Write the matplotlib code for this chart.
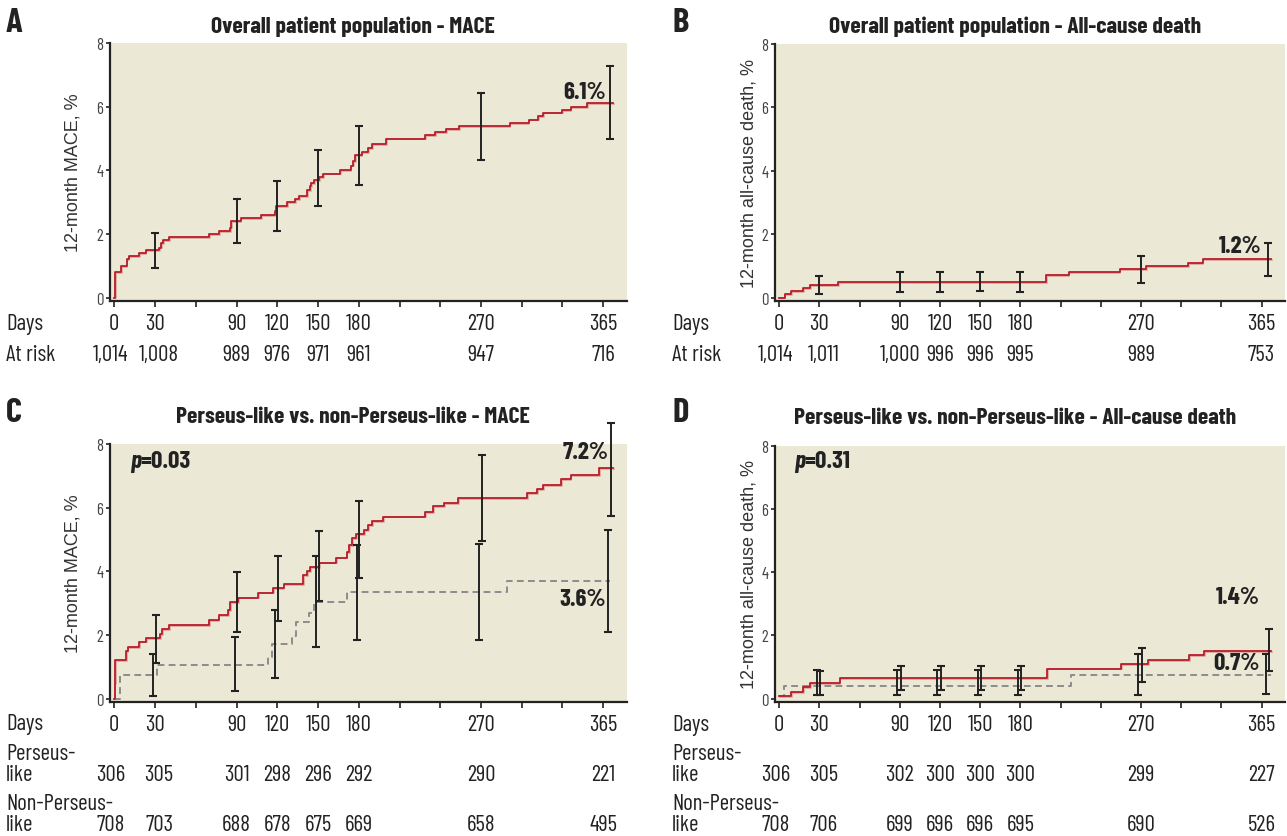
import matplotlib
matplotlib.use('Agg')
import matplotlib.pyplot as plt
import matplotlib.patheffects as pe
from matplotlib.transforms import blended_transform_factory

plt.rcParams['font.family'] = ['Barlow Condensed', 'DejaVu Sans']

W, H = 1287, 837

# ---- data ----
ci_days = [30, 90, 120, 150, 180, 270, 365]
tick_days = [0, 30, 90, 120, 150, 180, 270, 360]
tick_text = ['0', '30', '90', '120', '150', '180', '270', '365']
risk_pos = [-3, 33, 90, 120, 150, 180, 270, 360]

# A: overall population, MACE
a_days = [0, 0.3, 0.7, 5, 9, 10.5, 18.5, 23, 33, 34.5,
          36, 40, 70, 77, 85, 86, 93, 108, 118, 119,
          127, 133, 136, 142, 144, 145, 147, 151, 154, 166,
          174, 176, 177, 182, 187, 190, 200, 229, 236, 244,
          254, 291, 305, 312, 316, 330, 336, 348, 367]
a_pct = [0, 0.3, 0.8, 1.0, 1.2, 1.3, 1.4, 1.5, 1.57, 1.7,
         1.8, 1.9, 2.0, 2.1, 2.2, 2.4, 2.5, 2.6, 2.72, 2.88,
         3.0, 3.1, 3.2, 3.37, 3.5, 3.6, 3.7, 3.8, 3.9, 4.0,
         4.15, 4.3, 4.47, 4.58, 4.7, 4.84, 5.0, 5.1, 5.2, 5.3,
         5.4, 5.5, 5.6, 5.7, 5.82, 5.9, 6.0, 6.13, 6.13]
a_lo = [0.93, 1.7, 2.1, 2.89, 3.53, 4.33, 5.0]
a_hi = [2.04, 3.1, 3.67, 4.65, 5.4, 6.44, 7.27]
a_risk = ['1,014', '1,008', '989', '976', '971', '961', '947', '716']

# B: overall population, all-cause death
b_days = [0, 4, 9, 18, 23, 44, 199, 216, 254, 274, 305, 316, 367]
b_pct = [0, 0.1, 0.2, 0.3, 0.4, 0.48, 0.7, 0.79, 0.91, 1.0, 1.09, 1.2, 1.2]
b_lo = [0.12, 0.16, 0.17, 0.19, 0.17, 0.46, 0.69]
b_hi = [0.67, 0.8, 0.8, 0.8, 0.81, 1.31, 1.71]
b_risk = ['1,014', '1,011', '1,000', '996', '996', '995', '989', '753']

# C: Perseus-like vs non-Perseus-like, MACE
c1_days = [0, 0.2, 0.7, 8.8, 9.8, 18.5, 23.2, 33.7, 35, 40.2,
           69.5, 76.8, 83.6, 85, 91, 105.8, 117, 124.6, 139.2, 142,
           144, 150.7, 163, 171, 172.6, 175, 178, 184, 187, 190,
           198, 229, 235, 243, 253, 304, 311, 316, 329, 336,
           357, 367]
c1_pct = [0, 0.47, 1.2, 1.49, 1.62, 1.79, 1.9, 2.02, 2.17, 2.3,
          2.47, 2.61, 2.77, 3.03, 3.17, 3.33, 3.46, 3.6, 3.87, 4.01,
          4.14, 4.27, 4.43, 4.59, 4.82, 5.03, 5.16, 5.29, 5.44, 5.57,
          5.72, 5.86, 6.04, 6.14, 6.30, 6.45, 6.59, 6.72, 6.89, 7.02,
          7.23, 7.23]
c2_days = [0, 3.9, 31.7, 112.9, 116, 130.7, 133.6, 143.4, 147, 171.4, 289, 365]
c2_pct = [0, 0.73, 1.05, 1.31, 1.72, 1.96, 2.4, 2.7, 3.03, 3.36, 3.69, 3.69]
c1_lo = [1.13, 2.10, 2.44, 3.05, 3.78, 4.95, 5.74]
c1_hi = [2.62, 3.98, 4.49, 5.25, 6.2, 7.65, 8.65]
c2_lo = [0.08, 0.24, 0.65, 1.62, 1.84, 1.84, 2.10]
c2_hi = [1.39, 1.92, 2.79, 4.47, 4.84, 4.86, 5.29]
c1_risk = ['306', '305', '301', '298', '296', '292', '290', '221']
c2_risk = ['708', '703', '688', '678', '675', '669', '658', '495']

# D: Perseus-like vs non-Perseus-like, all-cause death
d1_days = [0, 9, 18, 23, 45, 200, 255, 275, 306, 317, 367]
d1_pct = [0.08, 0.21, 0.36, 0.49, 0.64, 0.95, 1.08, 1.22, 1.37, 1.5, 1.5]
d2_days = [0, 3.7, 218, 367]
d2_pct = [0.08, 0.4, 0.75, 0.75]
d1_lo = [0.12, 0.26, 0.26, 0.26, 0.26, 0.52, 0.86]
d1_hi = [0.87, 1.04, 1.04, 1.04, 1.04, 1.6, 2.19]
d2_lo = [0.10, 0.10, 0.10, 0.10, 0.10, 0.10, 0.13]
d2_hi = [0.89, 0.89, 0.89, 0.89, 0.89, 1.42, 1.42]
d1_risk = ['306', '305', '302', '300', '300', '300', '299', '227']
d2_risk = ['708', '706', '699', '696', '696', '695', '690', '526']

RED = '#b81c2c'
GRAY = '#8c8c8c'
BG = '#ece8d6'
INK = '#222222'
NUM = 16.5
DY = 3  # baseline nudge for table rows, px

fig = plt.figure(figsize=(W / 100, H / 100), dpi=100)


def fx(x):
    return x / W


def fy(y):
    return 1 - (y + DY) / H


def make_axes(left, top, right, bottom, ylabel, label_x):
    ax = fig.add_axes([left / W, 1 - bottom / H, (right - left) / W, (bottom - top) / H])
    ax.set_facecolor(BG)
    ax.set_xlim(-3.2, 377.5)
    ax.set_ylim(-0.11, 8)
    for s in ['top', 'right']:
        ax.spines[s].set_visible(False)
    for s in ['left', 'bottom']:
        ax.spines[s].set_color(INK)
        ax.spines[s].set_linewidth(1.6)
    ax.set_yticks([0, 2, 4, 6, 8])
    ax.tick_params(axis='y', length=3, width=1.2, pad=2, labelsize=12,
                   labelcolor='#444444', color=INK)
    xt = list(range(0, 361, 30))
    ax.set_xticks(xt)
    ax.set_xticklabels([tick_text[tick_days.index(t)] if t in tick_days else '' for t in xt])
    ax.tick_params(axis='x', length=4, width=1.2, pad=4.5, labelsize=NUM,
                   labelcolor=INK, color=INK)
    ax.set_ylabel(ylabel, family=['Liberation Sans', 'DejaVu Sans'], fontsize=13, color='#333333')
    ax.yaxis.set_label_coords(label_x, 0.5)
    return ax


def red_curve(ax, days, pct):
    ax.step(days, pct, where='post', color=RED, lw=1.3, zorder=3,
            path_effects=[pe.SimpleLineShadow(offset=(0.6, -0.6), shadow_color='#d89a8c', alpha=0.8),
                          pe.Normal()])


def gray_curve(ax, days, pct):
    ax.step(days, pct, where='post', color=GRAY, lw=1.4, ls=(0, (3.5, 2.2)), zorder=3)


def bars(ax, lo, hi, shift=0):
    x = [d + shift for d in ci_days]
    mid = [(a + b) / 2 for a, b in zip(lo, hi)]
    err = [(b - a) / 2 for a, b in zip(lo, hi)]
    eb = ax.errorbar(x, mid, yerr=err, fmt='none', ecolor=INK, elinewidth=1.4,
                     capsize=3, capthick=1.5, zorder=4)
    for art in eb.lines[1] + eb.lines[2]:
        art.set_clip_on(False)


def risk_row(ax, values, y):
    tr = blended_transform_factory(ax.transData, fig.transFigure)
    for p, v in zip(risk_pos, values):
        fig.text(p, fy(y), v, transform=tr, fontsize=NUM, color=INK, ha='center', va='center')


def big(ax, x, y, s):
    ax.text(x, y, s, fontsize=18, weight='bold', color=INK, ha='center', va='center')


def pval(ax, x, y, s):
    t = ax.text(x, y, 'p', fontsize=18, weight='bold', style='italic', color=INK, va='center')
    ax.annotate(s, xy=(1, 0), xycoords=t, fontsize=18, weight='bold', color=INK,
                va='bottom', ha='left')


def row_label(x, y, s):
    fig.text(fx(x), fy(y), s, fontsize=NUM, color=INK, ha='left', va='center')


# ---- A ----
axA = make_axes(110, 44.3, 627, 302, '12-month MACE, %', -0.056)
red_curve(axA, a_days, a_pct)
bars(axA, a_lo, a_hi)
big(axA, 346, 6.46, '6.1%')
risk_row(axA, a_risk, 353)
row_label(6, 322, 'Days')
row_label(6, 353, 'At risk')

# ---- B ----
axB = make_axes(775, 45, 1285, 302, '12-month all-cause death, %', -0.035)
red_curve(axB, b_days, b_pct)
bars(axB, b_lo, b_hi)
big(axB, 344, 1.64, '1.2%')
risk_row(axB, b_risk, 353)
row_label(672, 322, 'Days')
row_label(672, 353, 'At risk')

# ---- C ----
axC = make_axes(110, 445, 627, 703, '12-month MACE, %', -0.056)
gray_curve(axC, c2_days, c2_pct)
red_curve(axC, c1_days, c1_pct)
bars(axC, c2_lo, c2_hi, -1.5)
bars(axC, c1_lo, c1_hi, 0.5)
big(axC, 347, 7.74, '7.2%')
big(axC, 345, 3.12, '3.6%')
pval(axC, 11.5, 7.47, '=0.03')
risk_row(axC, c1_risk, 773)
risk_row(axC, c2_risk, 823)
row_label(6, 722, 'Days')
row_label(6, 752, 'Perseus-')
row_label(6, 773, 'like')
row_label(6, 802, 'Non-Perseus-')
row_label(6, 823, 'like')

# ---- D ----
axD = make_axes(775, 447, 1285, 703, '12-month all-cause death, %', -0.035)
gray_curve(axD, d2_days, d2_pct)
red_curve(axD, d1_days, d1_pct)
bars(axD, d2_lo, d2_hi, -2)
bars(axD, d1_lo, d1_hi, 0.5)
big(axD, 342, 3.21, '1.4%')
big(axD, 341.5, 1.14, '0.7%')
pval(axD, 10.7, 7.53, '=0.31')
risk_row(axD, d1_risk, 773)
risk_row(axD, d2_risk, 823)
row_label(672, 723, 'Days')
row_label(672, 752, 'Perseus-')
row_label(672, 773, 'like')
row_label(672, 802, 'Non-Perseus-')
row_label(672, 823, 'like')

# ---- titles and panel letters ----
titles = [('A', 'Overall patient population - MACE', 6, 20, 353, 24),
          ('B', 'Overall patient population - All-cause death', 673, 20, 1015, 24),
          ('C', 'Perseus-like vs. non-Perseus-like - MACE', 6, 410, 353, 414),
          ('D', 'Perseus-like vs. non-Perseus-like - All-cause death', 673, 410, 1015, 415)]
for letter, title, lx, ly, tx, ty in titles:
    fig.text(fx(lx), fy(ly), letter, fontsize=25, weight='bold', color=INK, ha='left', va='center')
    fig.text(fx(tx), fy(ty), title, fontsize=17, weight='bold', color=INK, ha='center', va='center')

fig.savefig('out.png', dpi=100)
